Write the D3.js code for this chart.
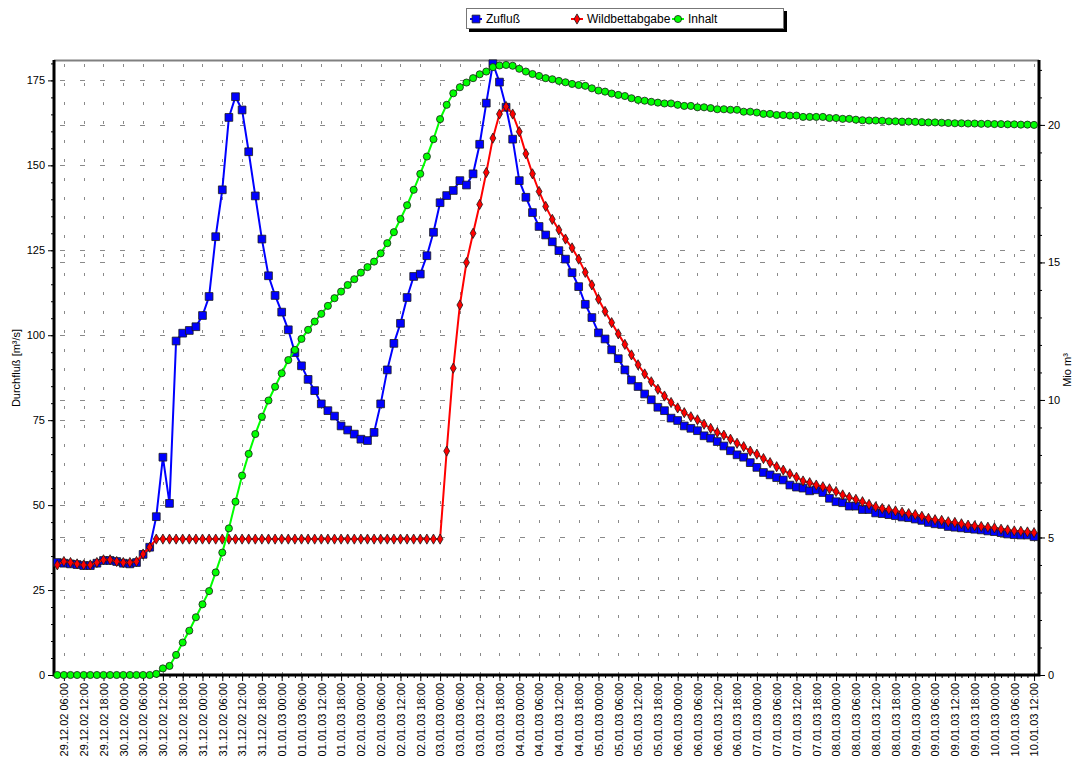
<!DOCTYPE html>
<html>
<head>
<meta charset="utf-8">
<script src="https://cdn.jsdelivr.net/npm/d3@7"></script>
<style>
  body { margin: 0; background: #fff; }
  svg text { font-family: "Liberation Sans", Arial, Helvetica, sans-serif; }
</style>
</head>
<body>
<div id="chart"></div>
<script>
var width = 1077;
var height = 763;

// plot area: x 54..1039, y 60..675
var plot = { left: 54, right: 1039, top: 60, bottom: 675 };

// first value at 29.12.02 04:00, one value every 2 hours
var startTime = new Date(2002, 11, 29, 4, 0);
var stepHours = 2;

var seriesNames = ["Zufluß", "Wildbettabgabe", "Inhalt"];

// Zufluß [m³/s]
var zufluss = [
  33.1, 32.9, 32.7, 32.5, 32.2, 32.2, 32.9, 33.7, 33.7, 33.4, 32.9, 32.7, 33.1, 35.5, 37.6,
  46.6, 64.1, 50.5, 98.3, 100.6, 101.4, 102.5, 105.8, 111.4, 129.0, 142.8, 164.1, 170.2, 166.3, 154.0,
  141.0, 128.3, 117.5, 111.7, 106.8, 101.6, 94.9, 91.0, 87.0, 83.7, 79.8, 77.8, 76.2, 73.3, 72.1,
  70.9, 69.4, 69.0, 71.4, 79.8, 89.8, 97.6, 103.5, 111.1, 117.3, 118.0, 123.4, 130.3, 139.0, 141.1,
  142.6, 145.5, 144.2, 147.5, 156.2, 168.3, 179.9, 174.5, 167.1, 157.7, 145.5, 140.6, 136.1, 132.0, 129.5,
  127.5, 124.9, 122.4, 118.4, 114.3, 109.1, 105.2, 100.7, 98.9, 95.7, 93.1, 89.8, 86.8, 84.9, 82.7,
  81.0, 78.8, 77.8, 75.6, 74.9, 73.3, 72.6, 71.9, 70.4, 69.7, 68.7, 67.4, 66.0, 64.8, 64.1,
  62.5, 61.1, 59.6, 58.9, 58.1, 57.4, 55.9, 55.3, 55.0, 54.2, 54.5, 53.7, 52.0, 51.0, 50.7,
  49.7, 49.7, 48.7, 48.7, 47.7, 47.5, 47.2, 46.9, 46.5, 46.3, 45.9, 45.5, 44.9, 44.5, 44.3,
  43.7, 43.5, 43.3, 43.1, 42.9, 42.7, 42.4, 42.2, 41.9, 41.5, 41.3, 41.2, 41.2, 40.7
];

// Wildbettabgabe [m³/s]
var wildbett = [
  32.4, 33.4, 33.1, 32.7, 32.4, 32.4, 33.1, 33.9, 33.9, 33.4, 33.1, 33.1, 33.4, 35.6, 37.6,
  40, 40, 40, 40, 40, 40, 40, 40, 40, 40, 40, 40, 40, 40, 40,
  40, 40, 40, 40, 40, 40, 40, 40, 40, 40, 40, 40, 40, 40, 40,
  40, 40, 40, 40, 40, 40, 40, 40, 40, 40, 40, 40, 40, 40,
  65.9, 90.3, 108.9, 121.4, 130.0, 138.5, 147.9, 158.0, 165.1, 167.3, 165.1, 159.9, 153.4, 147.5, 142.3,
  137.9, 134.1, 131.0, 128.3, 125.7, 122.4, 118.5, 114.8, 110.6, 107.0, 103.7, 100.4, 97.3, 94.2, 91.3,
  88.6, 86.3, 84.1, 82.1, 80.2, 78.6, 77.2, 76.0, 75.1, 73.8, 72.6, 71.4, 70.6, 69.4, 68.2,
  67.2, 65.9, 65.0, 63.7, 62.5, 61.3, 60.3, 59.2, 58.2, 57.1, 56.6, 55.9, 55.4, 54.8, 54.0,
  53.0, 52.3, 51.7, 51.0, 50.2, 49.5, 49.0, 48.7, 48.3, 47.9, 47.5, 47.2, 46.7, 46.1, 45.7,
  45.5, 45.1, 44.9, 44.5, 44.1, 43.9, 43.7, 43.5, 43.3, 42.9, 42.7, 42.4, 42.3, 42.1, 41.9
];

// Inhalt [Mio m³]
var inhalt = [
  0, 0, 0, 0, 0, 0, 0, 0, 0, 0, 0, 0, 0, 0, 0,
  0.04, 0.24, 0.33, 0.73, 1.18, 1.61, 2.10, 2.57, 3.05, 3.73, 4.45, 5.33, 6.30, 7.25, 8.04,
  8.76, 9.39, 9.98, 10.48, 10.97, 11.45, 11.82, 12.22, 12.55, 12.85, 13.13, 13.42, 13.70, 13.94, 14.18,
  14.39, 14.63, 14.83, 15.03, 15.33, 15.70, 16.10, 16.58, 17.08, 17.64, 18.22, 18.85, 19.48, 20.21, 20.73,
  21.15, 21.37, 21.54, 21.70, 21.84, 21.94, 22.10, 22.16, 22.18, 22.15, 22.04, 21.94, 21.85, 21.78, 21.70,
  21.66, 21.60, 21.55, 21.49, 21.45, 21.42, 21.33, 21.25, 21.21, 21.14, 21.09, 21.05, 20.97, 20.91, 20.88,
  20.84, 20.81, 20.78, 20.78, 20.73, 20.69, 20.69, 20.64, 20.64, 20.61, 20.57, 20.57, 20.55, 20.55, 20.48,
  20.48, 20.45, 20.40, 20.40, 20.36, 20.36, 20.34, 20.34, 20.29, 20.29, 20.29, 20.29, 20.25, 20.25, 20.22,
  20.22, 20.19, 20.17, 20.16, 20.16, 20.15, 20.13, 20.13, 20.12, 20.12, 20.11, 20.10, 20.09, 20.09, 20.08,
  20.07, 20.06, 20.06, 20.05, 20.05, 20.04, 20.04, 20.03, 20.03, 20.02, 20.02, 20.01, 20.01, 20.00
];

var leftTicks = [0, 25, 50, 75, 100, 125, 150, 175];
var rightTicks = [0, 5, 10, 15, 20];
var leftMax = 181;
var rightMax = 22.36;

var hour = 3600 * 1000;
var times = zufluss.map(function(d, i) {
  return new Date(startTime.getTime() + i * stepHours * hour);
});
// labelled ticks every 6 hours
var majorTimes = times.filter(function(t) { return t.getHours() % 6 === 0; });

var svg = d3.select("#chart")
  .append("svg")
  .attr("width", width)
  .attr("height", height);

svg.append("rect")
  .attr("width", width)
  .attr("height", height)
  .attr("fill", "#fff");

var x = d3.scaleTime()
  .domain([new Date(times[0].getTime() - hour), new Date(times[times.length - 1].getTime() + 1.5 * hour)])
  .range([plot.left, plot.right]);

var yL = d3.scaleLinear().domain([0, leftMax]).range([plot.bottom, plot.top]);
var yR = d3.scaleLinear().domain([0, rightMax]).range([plot.bottom, plot.top]);

// grid
var grid = svg.append("g").attr("class", "grid")
  .attr("stroke", "#8a8a8a")
  .attr("stroke-width", 1);

grid.selectAll(".vgrid")
  .data(majorTimes)
  .enter()
  .append("line")
  .attr("x1", function(d) { return Math.round(x(d)) + 0.5; })
  .attr("x2", function(d) { return Math.round(x(d)) + 0.5; })
  .attr("y1", plot.bottom)
  .attr("y2", plot.top)
  .attr("stroke-dasharray", "3,16");

var hLines = leftTicks.slice(1).map(function(v) { return yL(v); })
  .concat(rightTicks.slice(1).map(function(v) { return yR(v); }));

grid.selectAll(".hgrid")
  .data(hLines)
  .enter()
  .append("line")
  .attr("x1", plot.left)
  .attr("x2", plot.right)
  .attr("y1", function(d) { return Math.round(d) + 0.5; })
  .attr("y2", function(d) { return Math.round(d) + 0.5; })
  .attr("stroke-dasharray", "5,15")
  .attr("stroke-dashoffset", -6);

// axes
var fmt = d3.timeFormat("%d.%m.%y %H:%M");

var xMinor = svg.append("g")
  .attr("transform", "translate(0," + plot.bottom + ")")
  .call(d3.axisBottom(x).tickValues(times).tickSize(3).tickFormat(""));

var xAxis = svg.append("g")
  .attr("transform", "translate(0," + plot.bottom + ")")
  .call(d3.axisBottom(x).tickValues(majorTimes).tickSize(6).tickFormat(fmt));

xAxis.selectAll("text")
  .attr("transform", "rotate(-90)")
  .attr("text-anchor", "end")
  .attr("x", -8)
  .attr("y", 0)
  .attr("dy", "0.35em");

var yMinorL = svg.append("g")
  .attr("transform", "translate(" + plot.left + ",0)")
  .call(d3.axisLeft(yL).tickValues(d3.range(0, leftMax, 5)).tickSize(3).tickFormat(""));

var yAxisL = svg.append("g")
  .attr("transform", "translate(" + plot.left + ",0)")
  .call(d3.axisLeft(yL).tickValues(leftTicks).tickSize(6).tickPadding(3));

var yMinorR = svg.append("g")
  .attr("transform", "translate(" + plot.right + ",0)")
  .call(d3.axisRight(yR).tickValues(d3.range(0, rightMax, 1)).tickSize(3).tickFormat(""));

var yAxisR = svg.append("g")
  .attr("transform", "translate(" + plot.right + ",0)")
  .call(d3.axisRight(yR).tickValues(rightTicks).tickSize(6).tickPadding(3));

[xMinor, xAxis, yMinorL, yAxisL, yMinorR, yAxisR].forEach(function(a) {
  a.select(".domain").remove();
  a.selectAll("line").attr("stroke", "#000");
  a.selectAll("text").attr("font-size", 11).attr("fill", "#000");
});

// frame: thick black axes, thin grey top
svg.append("line")
  .attr("x1", plot.left).attr("x2", plot.right)
  .attr("y1", plot.top + 0.5).attr("y2", plot.top + 0.5)
  .attr("stroke", "#808080").attr("stroke-width", 2);

svg.append("path")
  .attr("d", "M" + plot.left + "," + plot.top + "V" + plot.bottom + "H" + plot.right + "V" + plot.top)
  .attr("fill", "none")
  .attr("stroke", "#000")
  .attr("stroke-width", 3);

// axis titles
svg.append("text")
  .attr("transform", "translate(20,368) rotate(-90)")
  .attr("text-anchor", "middle")
  .attr("font-size", 11)
  .text("Durchfluß [m³/s]");

svg.append("text")
  .attr("transform", "translate(1071,370) rotate(-90)")
  .attr("text-anchor", "middle")
  .attr("font-size", 11)
  .text("Mio m³");

// series
var lineL = d3.line()
  .x(function(d, i) { return x(times[i]); })
  .y(function(d) { return yL(d); });

var lineR = d3.line()
  .x(function(d, i) { return x(times[i]); })
  .y(function(d) { return yR(d); });

var symSquare = d3.symbol().type(d3.symbolSquare).size(60);
var symDiamond = d3.symbol().type(d3.symbolDiamond).size(30);
var symCircle = d3.symbol().type(d3.symbolCircle).size(40);

function drawSeries(values, line, yScale, color, sym) {
  var g = svg.append("g");
  g.append("path")
    .datum(values)
    .attr("d", line)
    .attr("fill", "none")
    .attr("stroke", color)
    .attr("stroke-width", 2);
  g.selectAll("path.mark")
    .data(values)
    .enter()
    .append("path")
    .attr("class", "mark")
    .attr("d", sym)
    .attr("transform", function(d, i) { return "translate(" + x(times[i]) + "," + yScale(d) + ")"; })
    .attr("fill", color)
    .attr("stroke", "#1a1a1a")
    .attr("stroke-width", 0.8);
}

drawSeries(zufluss, lineL, yL, "#0000ff", symSquare);
drawSeries(wildbett, lineL, yL, "#ff0000", symDiamond);
drawSeries(inhalt, lineR, yR, "#00ff00", symCircle);

// legend
var legend = svg.append("g").attr("transform", "translate(466,8)");

legend.append("rect")
  .attr("x", 3).attr("y", 3)
  .attr("width", 318).attr("height", 21)
  .attr("fill", "#000");

legend.append("rect")
  .attr("x", 0.5).attr("y", 0.5)
  .attr("width", 317).attr("height", 20)
  .attr("fill", "#fff")
  .attr("stroke", "#777");

var legendItems = [
  { name: seriesNames[0], color: "#0000ff", sym: symSquare, x: 10 },
  { name: seriesNames[1], color: "#ff0000", sym: symDiamond, x: 111 },
  { name: seriesNames[2], color: "#00ff00", sym: symCircle, x: 212 }
];

var li = legend.selectAll(".item")
  .data(legendItems)
  .enter()
  .append("g")
  .attr("transform", function(d) { return "translate(" + d.x + ",11)"; });

li.append("line")
  .attr("x1", -6).attr("x2", 6)
  .attr("stroke", function(d) { return d.color; })
  .attr("stroke-width", 2);

li.append("path")
  .attr("d", function(d) { return d.sym(); })
  .attr("fill", function(d) { return d.color; })
  .attr("stroke", "#1a1a1a")
  .attr("stroke-width", 0.8);

li.append("text")
  .attr("x", 10)
  .attr("dy", "0.35em")
  .attr("font-size", 12)
  .text(function(d) { return d.name; });
</script>
</body>
</html>
